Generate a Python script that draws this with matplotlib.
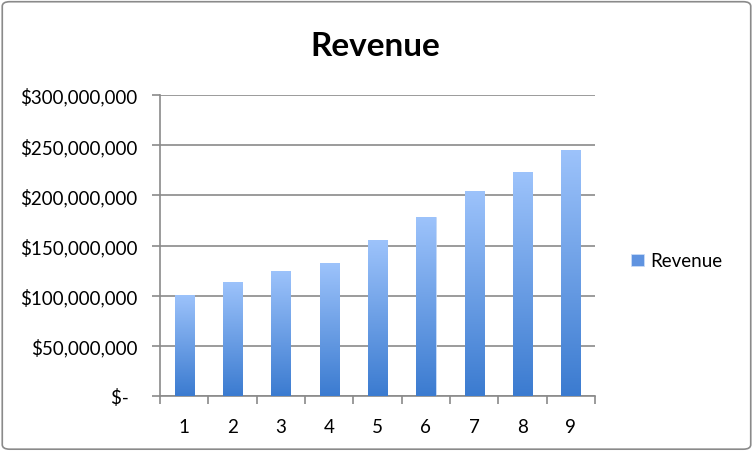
import numpy as np
import matplotlib.pyplot as plt
from matplotlib.patches import FancyBboxPatch
from matplotlib.ticker import FuncFormatter
from matplotlib.colors import LinearSegmentedColormap

# Дані
periods = [1, 2, 3, 4, 5, 6, 7, 8, 9]
revenue = [101e6, 114e6, 125e6, 132.5e6, 155e6, 178e6, 204.5e6, 223e6, 245.5e6]
y_ticks = [0, 50e6, 100e6, 150e6, 200e6, 250e6, 300e6]

plt.rcParams['font.family'] = ['Lato', 'DejaVu Sans']

fig = plt.figure(figsize=(7.53, 4.52), dpi=100)
ax = fig.add_axes([160 / 753, 1 - 397 / 452, 435 / 753, 301 / 452])

x = np.arange(len(periods))
bars = ax.bar(x, revenue, width=0.4, color='#6a9de6', zorder=2)

# Градієнт у стовпчиках
cmap = LinearSegmentedColormap.from_list('rev', ['#3b7bd0', '#9dc3fb'])
grad = np.linspace(0, 1, 256).reshape(-1, 1)
for b in bars:
    bx, by = b.get_x(), b.get_y()
    im = ax.imshow(grad, cmap=cmap, origin='lower', aspect='auto',
                   extent=[bx, bx + b.get_width(), by, by + b.get_height()], zorder=3)
    im.set_clip_path(b)
    b.set_edgecolor('#c9dcf7')
    b.set_linewidth(0.6)

ax.set_xlim(-0.5, len(periods) - 0.5)
ax.set_ylim(0, 300e6)
ax.set_yticks(y_ticks)
ax.yaxis.set_major_formatter(FuncFormatter(
    lambda v, p: '$-  ' if v == 0 else f'${v:,.0f}'))
ax.set_xticks(x)
ax.set_xticklabels([str(p) for p in periods])
ax.set_xticks(np.arange(-0.5, len(periods)), minor=True)

ax.grid(axis='y', color='#8a8a8a', linewidth=1.2, zorder=0)
ax.set_axisbelow(True)
for s in ['top', 'right']:
    ax.spines[s].set_visible(False)
for s in ['left', 'bottom']:
    ax.spines[s].set_color('#8a8a8a')
    ax.spines[s].set_linewidth(1.2)

ax.tick_params(axis='y', length=6, color='#8a8a8a', width=1.2, labelsize=13.5, pad=10)
ax.tick_params(axis='x', which='major', length=0, labelsize=13.5, pad=16)
ax.tick_params(axis='x', which='minor', length=6, color='#8a8a8a', width=1.2)

fig.text(375 / 753, 1 - 47 / 452, 'Revenue', ha='center', va='center',
         fontsize=24, fontweight='bold')

leg = ax.legend([bars[0]], ['Revenue'], loc='center left', bbox_to_anchor=(1.045, 0.449),
                frameon=False, fontsize=13.5, handlelength=0.65, handleheight=0.65,
                handletextpad=0.35)
leg.legend_handles[0].set_facecolor('#5f93e0')

# Рамка навколо графіка
fig.patches.append(FancyBboxPatch((0.003, 0.004), 0.994, 0.99,
                                  boxstyle='round,pad=0,rounding_size=0.01',
                                  transform=fig.transFigure, fill=False,
                                  edgecolor='#8a8a8a', linewidth=1.2))

fig.savefig('out.png', dpi=100)
